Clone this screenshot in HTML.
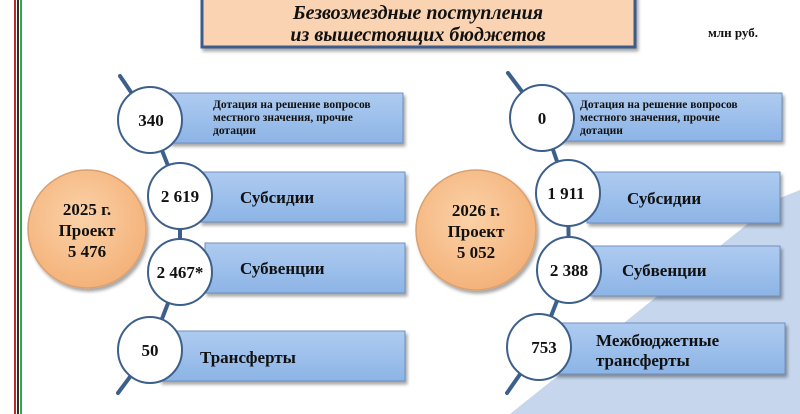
<!DOCTYPE html>
<html><head><meta charset="utf-8"><style>
html,body{margin:0;padding:0;background:#fff;}
svg{display:block;}
text{font-family:"Liberation Serif","DejaVu Serif",serif;font-weight:bold;fill:#111;}
</style></head><body>
<svg width="800" height="414" viewBox="0 0 800 414" xmlns="http://www.w3.org/2000/svg">
<defs>
<linearGradient id="bx" x1="0" y1="0" x2="0" y2="1"><stop offset="0" stop-color="#aecbf0"/><stop offset="1" stop-color="#8cb4e6"/></linearGradient>
<radialGradient id="or" cx="0.45" cy="0.4" r="0.6"><stop offset="0" stop-color="#fbd2a8"/><stop offset="1" stop-color="#f4b27a"/></radialGradient>
<filter id="sh" x="-10%" y="-10%" width="130%" height="140%"><feDropShadow dx="2" dy="3" stdDeviation="1.5" flood-color="#000" flood-opacity="0.35"/></filter>
</defs>
<polygon points="780,198 800,190 800,414 510,414" fill="#c6d6ec"/>
<rect x="14" y="0" width="2" height="414" fill="#c0262d"/>
<rect x="17" y="0" width="2" height="414" fill="#3a2a20"/>
<rect x="20" y="0" width="2" height="414" fill="#2aa84a"/>
<rect x="202" y="-4" width="433" height="51" fill="#f9d3b2" stroke="#3a5c8c" stroke-width="3" filter="url(#sh)"/>
<text x="418" y="19" font-size="20" font-style="italic" text-anchor="middle">Безвозмездные поступления</text>
<text x="418" y="41" font-size="20" font-style="italic" text-anchor="middle">из вышестоящих бюджетов</text>
<text x="733" y="37" font-size="13" text-anchor="middle">млн руб.</text>

<g stroke="#3d5f8c" stroke-width="4" fill="none" stroke-linecap="round">
<polyline points="120,76 150,120 180,196 180,272 150,350 118,393"/>
<polyline points="508,73 542,118 568,193 569,270 539,347 507,393"/>
</g>
<g fill="url(#bx)" stroke="#6f90bd" stroke-width="1" filter="url(#sh)">
<rect x="170" y="93" width="233" height="50"/>
<rect x="200" y="172" width="205" height="50"/>
<rect x="205" y="243" width="200" height="50"/>
<rect x="160" y="331" width="245" height="50"/>
<rect x="560" y="93" width="222" height="48"/>
<rect x="587" y="172" width="193" height="51"/>
<rect x="590" y="246" width="190" height="50"/>
<rect x="555" y="323" width="230" height="51"/>
</g>
<g fill="#fff" stroke="#3d5f8c" stroke-width="2">
<ellipse cx="150" cy="120" rx="32" ry="33"/>
<ellipse cx="180" cy="196" rx="32" ry="33"/>
<ellipse cx="180" cy="272" rx="32" ry="33"/>
<ellipse cx="150" cy="350" rx="32" ry="33"/>
<ellipse cx="542" cy="118" rx="32" ry="33"/>
<ellipse cx="568" cy="193" rx="32" ry="33"/>
<ellipse cx="569" cy="270" rx="32" ry="33"/>
<ellipse cx="539" cy="347" rx="32" ry="33"/>
</g>
<circle cx="87" cy="229" r="59" fill="url(#or)" stroke="#d9a070" stroke-width="1.5" filter="url(#sh)"/>
<circle cx="476" cy="230" r="60" fill="url(#or)" stroke="#d9a070" stroke-width="1.5" filter="url(#sh)"/>
<g font-size="17" text-anchor="middle">
<text x="87" y="215">2025 г.</text><text x="87" y="236">Проект</text><text x="87" y="257">5 476</text>
<text x="476" y="216">2026 г.</text><text x="476" y="237">Проект</text><text x="476" y="258">5 052</text>
</g>
<g font-size="17" text-anchor="middle">
<text x="151" y="126">340</text>
<text x="180" y="202">2 619</text>
<text x="180" y="278">2 467*</text>
<text x="150" y="356">50</text>
<text x="542" y="124">0</text>
<text x="566" y="199">1 911</text>
<text x="569" y="276">2 388</text>
<text x="544" y="353">753</text>
</g>
<g font-size="11.5">
<text x="213" y="108">Дотация на решение вопросов</text>
<text x="213" y="121">местного значения, прочие</text>
<text x="213" y="134">дотации</text>
<text x="580" y="108">Дотация на решение вопросов</text>
<text x="580" y="121">местного значения, прочие</text>
<text x="580" y="134">дотации</text>
</g>
<g font-size="17">
<text x="240" y="203">Субсидии</text>
<text x="240" y="274">Субвенции</text>
<text x="200" y="363">Трансферты</text>
<text x="627" y="204">Субсидии</text>
<text x="622" y="276">Субвенции</text>
<text x="596" y="346">Межбюджетные</text>
<text x="596" y="366">трансферты</text>
</g>
</svg>
</body></html>
